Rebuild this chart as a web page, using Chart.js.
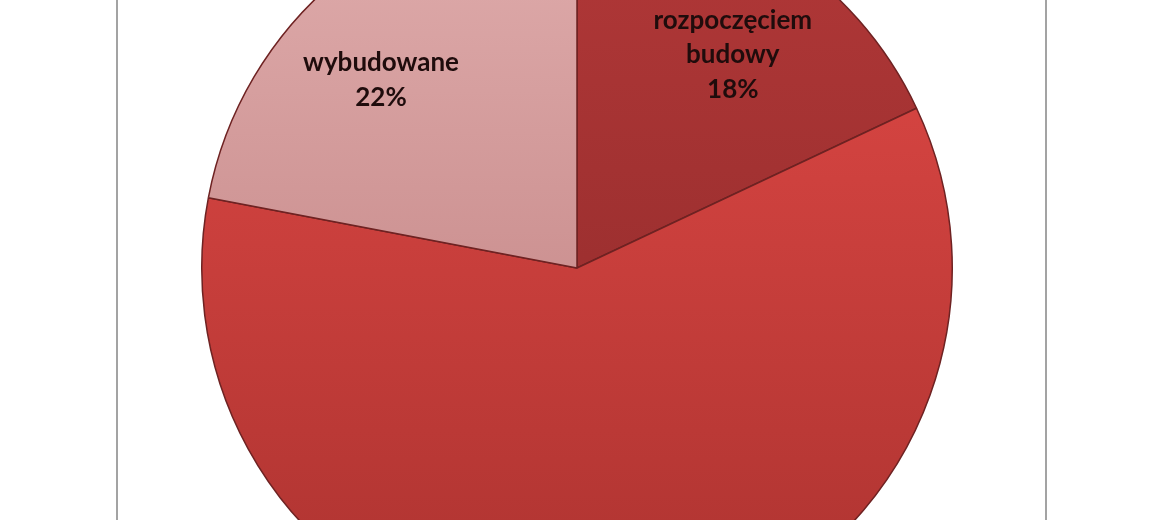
<!DOCTYPE html>
<html>
<head>
<meta charset="utf-8">
<script src="https://cdn.jsdelivr.net/npm/chart.js@4"></script>
<style>
  html, body { margin:0; padding:0; width:1170px; height:520px; overflow:hidden; background:#fff; }
  #frame { position:absolute; left:116px; top:-10px; width:927px; height:540px; border-left:2px solid #a3a3a3; border-right:2px solid #a3a3a3; }
  #wrap { position:absolute; left:0; top:-112px; width:1170px; height:760px; }
</style>
</head>
<body>
<div id="frame"></div>
<div id="wrap"><canvas id="pie"></canvas></div>
<script>
// data (clockwise from 12 o'clock)
const categories = ['przed rozpoczęciem budowy', 'w budowie', 'wybudowane'];
const shares = [18, 60, 22];
const labelLines = [['przed', 'rozpoczęciem', 'budowy'], ['w budowie'], ['wybudowane']];

// top/bottom colours of each slice
const topColors = ['#ad3636', '#dc4744', '#dba6a6'];
const bottomColors = ['#8f2a2a', '#b43633', '#c08080'];

(() => {
  const ctx = document.getElementById('pie');
  // small pixel nudges so labels sit where Excel's best-fit put them
  const nudge = [[7, 4], [55, 8], [-19, 26]];

  function fill(c){
    const area = c.chart.chartArea;
    if (!area) return topColors[c.dataIndex];
    const g = c.chart.ctx.createLinearGradient(0, area.top + 100, 0, area.bottom - 120);
    g.addColorStop(0, topColors[c.dataIndex]);
    g.addColorStop(1, bottomColors[c.dataIndex]);
    return g;
  }

  // Excel-style labels: name + percent in the slice
  const sliceLabels = {
    id: 'sliceLabels',
    afterDatasetsDraw(chart){
      const c = chart.ctx;
      const arcs = chart.getDatasetMeta(0).data;
      c.save();
      c.font = 'bold 26px Lato, "Open Sans", sans-serif';
      c.fillStyle = '#1f0c0c';
      c.textAlign = 'center';
      c.textBaseline = 'middle';
      arcs.forEach((a, i) => {
        const p = a.getProps(['x','y','startAngle','endAngle','outerRadius'], true);
        const mid = (p.startAngle + p.endAngle) / 2;
        const r = p.outerRadius * 0.74;
        const x = p.x + Math.cos(mid) * r + nudge[i][0];
        const y = p.y + Math.sin(mid) * r + nudge[i][1];
        const lines = labelLines[i].concat([shares[i] + '%']);
        const lh = 34.5;
        const y0 = y - (lines.length - 1) * lh / 2;
        lines.forEach((t, k) => c.fillText(t, x, y0 + k * lh));
      });
      c.restore();
    }
  };

  new Chart(ctx, {
    type:'pie',
    data:{
      labels:categories,
      datasets:[{
        data:shares,
        backgroundColor:fill,
        borderColor:'#6e2222',
        borderWidth:1.5
      }]
    },
    options:{
      responsive:true,
      maintainAspectRatio:false,
      animation:false,
      layout:{ padding:{ left:0, right:16, top:4, bottom:4 } },
      plugins:{ legend:{ display:false }, tooltip:{ enabled:false }, title:{ display:false } }
    },
    plugins:[sliceLabels]
  });
})();
</script>
</body>
</html>
